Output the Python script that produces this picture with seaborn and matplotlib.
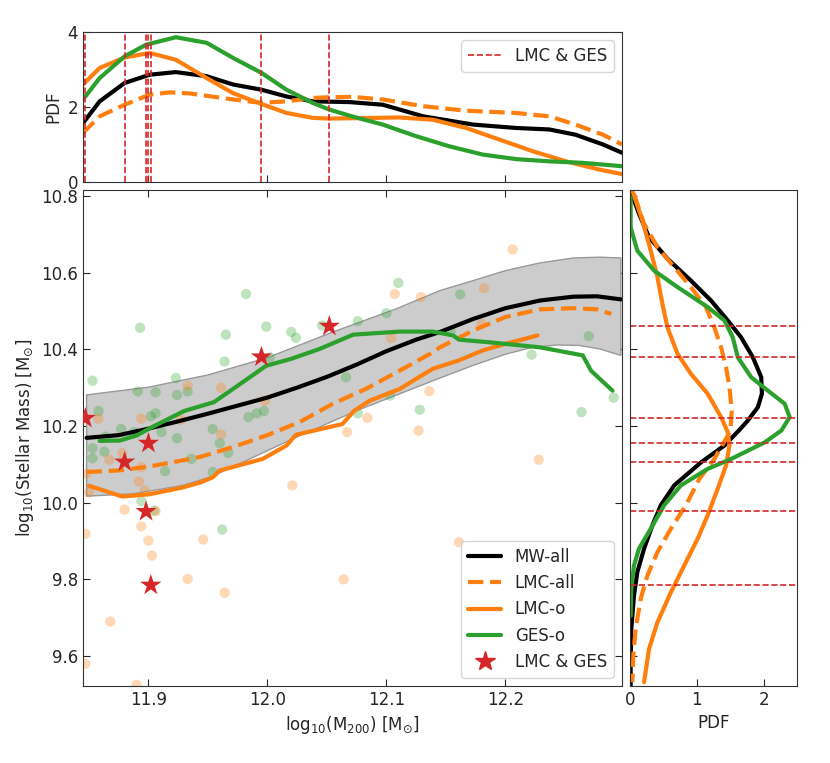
import numpy as np
import seaborn as sns
import matplotlib
matplotlib.use('Agg')
import matplotlib.pyplot as plt
from matplotlib.lines import Line2D

# ---- data ----
# running medians in the main panel
MW_X = [11.848, 11.875, 11.900, 11.925, 11.950, 11.975, 12.000, 12.025, 12.050, 12.075,
        12.100, 12.125, 12.145, 12.173, 12.200, 12.229, 12.257, 12.277, 12.297]
MW_Y = [10.169, 10.176, 10.193, 10.212, 10.232, 10.253, 10.274, 10.300, 10.328, 10.360,
        10.395, 10.425, 10.445, 10.479, 10.507, 10.527, 10.537, 10.538, 10.530]

LMC_ALL_X = [11.848, 11.875, 11.900, 11.925, 11.943, 11.971, 11.999, 12.027, 12.055, 12.083,
             12.111, 12.139, 12.145, 12.173, 12.200, 12.229, 12.257, 12.277, 12.289]
LMC_ALL_Y = [10.080, 10.084, 10.094, 10.108, 10.119, 10.145, 10.175, 10.210, 10.258, 10.297,
             10.344, 10.392, 10.405, 10.449, 10.484, 10.504, 10.507, 10.504, 10.492]

LMC_O_X = [11.850, 11.878, 11.901, 11.928, 11.943, 11.954, 11.960, 11.996, 12.016, 12.024,
           12.063, 12.073, 12.086, 12.111, 12.125, 12.139, 12.161, 12.181, 12.200, 12.227]
LMC_O_Y = [10.044, 10.016, 10.022, 10.039, 10.052, 10.066, 10.084, 10.114, 10.149, 10.177,
           10.205, 10.240, 10.266, 10.296, 10.323, 10.349, 10.371, 10.397, 10.414, 10.436]

GES_O_X = [11.859, 11.876, 11.890, 11.903, 11.930, 11.955, 11.975, 11.999, 12.020, 12.044,
           12.072, 12.111, 12.139, 12.156, 12.161, 12.187, 12.229, 12.265, 12.272, 12.290]
GES_O_Y = [10.161, 10.162, 10.175, 10.197, 10.239, 10.262, 10.305, 10.357, 10.375, 10.401,
           10.438, 10.446, 10.446, 10.436, 10.425, 10.418, 10.405, 10.384, 10.344, 10.292]

# scatter band around MW-all
BAND_UP_X = [11.848, 11.900, 11.950, 12.000, 12.055, 12.108, 12.145, 12.173, 12.200, 12.229,
             12.257, 12.279, 12.297]
BAND_UP_Y = [10.281, 10.301, 10.333, 10.378, 10.445, 10.505, 10.553, 10.579, 10.605, 10.625,
             10.638, 10.640, 10.638]
BAND_LO_X = [11.848, 11.887, 11.929, 11.954, 12.021, 12.075, 12.145, 12.173, 12.201, 12.223,
             12.243, 12.262, 12.279, 12.297]
BAND_LO_Y = [10.017, 10.023, 10.045, 10.069, 10.166, 10.240, 10.325, 10.358, 10.388, 10.405,
             10.411, 10.410, 10.401, 10.384]

# individual hosts
GES_PTS_X = [11.853, 11.893, 11.982, 11.999, 11.965, 11.964, 12.020, 12.024, 11.923, 11.924,
             11.933, 11.891, 11.906, 11.906, 11.902, 11.858, 11.877, 11.888, 11.911, 11.864,
             11.853, 11.853, 11.863, 11.924, 11.954, 11.960, 11.967, 11.936, 11.914, 11.954,
             11.984, 11.991, 11.997, 12.002, 12.046, 11.894, 11.905, 11.962, 12.110, 12.076,
             12.100, 12.162, 12.066, 12.103, 12.076, 12.128, 12.154, 12.270, 12.222, 12.264,
             12.291]
GES_PTS_Y = [10.318, 10.456, 10.544, 10.459, 10.438, 10.368, 10.445, 10.430, 10.325, 10.281,
             10.290, 10.290, 10.288, 10.233, 10.225, 10.239, 10.192, 10.184, 10.184, 10.172,
             10.142, 10.116, 10.133, 10.168, 10.192, 10.155, 10.130, 10.114, 10.082, 10.080,
             10.223, 10.233, 10.239, 10.379, 10.462, 10.004, 9.979, 9.930, 10.573, 10.473,
             10.494, 10.543, 10.327, 10.279, 10.233, 10.242, 10.446, 10.434, 10.386, 10.236,
             10.274]
LMC_PTS_X = [11.858, 11.933, 11.961, 11.894, 11.927, 11.961, 11.998, 11.878, 11.867, 11.894,
             11.848, 11.892, 11.850, 11.897, 11.880, 11.906, 11.894, 11.847, 11.900, 11.946,
             11.903, 11.933, 11.964, 11.868, 11.847, 11.890, 12.021, 12.206, 12.182, 12.107,
             12.129, 12.180, 12.104, 12.136, 12.084, 12.067, 12.127, 12.228, 12.161, 12.064]
LMC_PTS_Y = [10.219, 10.305, 10.299, 10.219, 10.216, 10.178, 10.266, 10.129, 10.112, 10.093,
             10.075, 10.055, 10.027, 10.032, 9.982, 9.978, 9.938, 9.919, 9.901, 9.904,
             9.862, 9.801, 9.765, 9.690, 9.580, 9.525, 10.045, 10.660, 10.559, 10.544,
             10.536, 10.466, 10.429, 10.291, 10.221, 10.184, 10.188, 10.112, 9.897, 9.800]

# hosts with both an LMC and a GES analogue
STAR_X = [11.847, 11.880, 11.900, 11.898, 11.902, 11.995, 12.052]
STAR_Y = [10.220, 10.106, 10.155, 9.977, 9.785, 10.380, 10.460]

# marginal PDFs of halo mass (top)
TOP_MW_X = [11.845, 11.859, 11.880, 11.901, 11.923, 11.949, 11.971, 11.995, 12.016, 12.038,
            12.069, 12.097, 12.131, 12.173, 12.209, 12.237, 12.259, 12.282, 12.298]
TOP_MW = [1.57, 2.15, 2.64, 2.86, 2.93, 2.82, 2.60, 2.46, 2.28, 2.15,
          2.13, 2.06, 1.75, 1.53, 1.44, 1.40, 1.26, 1.00, 0.78]
TOP_LMC_ALL_X = [11.845, 11.859, 11.880, 11.901, 11.918, 11.935, 11.971, 11.995, 12.016, 12.038,
                 12.052, 12.071, 12.097, 12.131, 12.167, 12.209, 12.237, 12.259, 12.282, 12.298]
TOP_LMC_ALL = [1.31, 1.75, 2.06, 2.33, 2.39, 2.36, 2.20, 2.11, 2.15, 2.24,
               2.26, 2.27, 2.20, 2.02, 1.90, 1.84, 1.75, 1.53, 1.26, 1.00]
TOP_LMC_O_X = [11.845, 11.859, 11.880, 11.901, 11.923, 11.949, 11.971, 11.995, 12.016, 12.038,
               12.052, 12.071, 12.111, 12.139, 12.167, 12.195, 12.223, 12.251, 12.279, 12.298]
TOP_LMC_O = [2.60, 3.04, 3.32, 3.44, 3.26, 2.77, 2.37, 2.08, 1.84, 1.71,
             1.69, 1.70, 1.72, 1.66, 1.44, 1.13, 0.82, 0.55, 0.33, 0.21]
TOP_GES_O_X = [11.845, 11.859, 11.880, 11.898, 11.923, 11.949, 11.971, 11.995, 12.016, 12.038,
               12.052, 12.071, 12.097, 12.125, 12.153, 12.181, 12.209, 12.237, 12.265, 12.298]
TOP_GES_O = [2.20, 2.77, 3.35, 3.66, 3.86, 3.71, 3.31, 2.91, 2.46, 2.11,
             1.93, 1.75, 1.53, 1.22, 0.95, 0.73, 0.61, 0.55, 0.51, 0.42]

# marginal PDFs of stellar mass (right)
R_MW_Y = [10.814, 10.753, 10.692, 10.636, 10.579, 10.527, 10.475, 10.431, 10.379, 10.327,
          10.284, 10.249, 10.214, 10.190, 10.149, 10.105, 10.045, 9.993, 9.941, 9.880,
          9.819, 9.758, 9.671, 9.584, 9.522]
R_MW_X = [0.010, 0.135, 0.286, 0.561, 0.912, 1.213, 1.464, 1.664, 1.840, 1.965,
          1.975, 1.915, 1.764, 1.640, 1.414, 1.063, 0.662, 0.461, 0.336, 0.211,
          0.110, 0.060, 0.020, 0.010, 0.010]
R_LMC_ALL_Y = [10.805, 10.727, 10.666, 10.614, 10.562, 10.510, 10.457, 10.405, 10.353, 10.301,
               10.240, 10.188, 10.175, 10.114, 10.062, 9.993, 9.932, 9.871, 9.810, 9.749,
               9.671, 9.601, 9.532]
R_LMC_ALL_X = [0.060, 0.211, 0.411, 0.662, 0.912, 1.138, 1.263, 1.364, 1.439, 1.489,
               1.524, 1.504, 1.464, 1.263, 1.038, 0.837, 0.612, 0.411, 0.261, 0.160,
               0.085, 0.050, 0.035]
R_LMC_O_Y = [10.814, 10.736, 10.657, 10.588, 10.518, 10.457, 10.388, 10.336, 10.284, 10.223,
             10.184, 10.149, 10.097, 10.036, 9.967, 9.906, 9.836, 9.766, 9.688, 9.619, 9.532]
R_LMC_O_X = [0.035, 0.185, 0.311, 0.411, 0.486, 0.561, 0.712, 0.912, 1.163, 1.364,
             1.464, 1.489, 1.439, 1.313, 1.163, 1.013, 0.812, 0.612, 0.411, 0.286, 0.211]
R_GES_O_Y = [10.796, 10.718, 10.657, 10.605, 10.562, 10.510, 10.475, 10.431, 10.379, 10.327,
             10.292, 10.258, 10.223, 10.188, 10.157, 10.114, 10.088, 10.045, 9.993, 9.932,
             9.880, 9.836, 9.775, 9.705]
R_GES_O_X = [0.010, 0.010, 0.110, 0.361, 0.712, 1.163, 1.414, 1.539, 1.614, 1.815,
             2.065, 2.316, 2.391, 2.266, 2.015, 1.514, 1.163, 0.762, 0.511, 0.311,
             0.135, 0.060, 0.020, 0.010]

BLACK = 'black'
ORANGE = '#ff7f0e'
GREEN = '#2ca02c'
RED = '#d62728'

sns.set_style('ticks', {'xtick.direction': 'in', 'ytick.direction': 'in',
                        'axes.edgecolor': '0.2'})
plt.rcParams['font.family'] = ['DejaVu Sans']
plt.rcParams['font.size'] = 12
plt.rcParams['xtick.labelsize'] = 12
plt.rcParams['ytick.labelsize'] = 12

fig = plt.figure(figsize=(8.3, 7.63), dpi=100)
ax = fig.add_axes([0.1, 0.1009, 0.6494, 0.650])
ax_top = fig.add_axes([0.1, 0.7615, 0.6494, 0.1966], sharex=ax)
ax_r = fig.add_axes([0.759, 0.1009, 0.2012, 0.650], sharey=ax)

lw = 3

# ---- main panel ----
ax.fill(np.r_[BAND_UP_X, BAND_LO_X[::-1]], np.r_[BAND_UP_Y, BAND_LO_Y[::-1]],
        facecolor='0.8', edgecolor='0.6', lw=1, zorder=1)
sns.scatterplot(x=GES_PTS_X, y=GES_PTS_Y, ax=ax, color=GREEN, alpha=0.3, s=55,
                edgecolor='none', zorder=2)
sns.scatterplot(x=LMC_PTS_X, y=LMC_PTS_Y, ax=ax, color=ORANGE, alpha=0.3, s=55,
                edgecolor='none', zorder=2)
sns.lineplot(x=MW_X, y=MW_Y, ax=ax, color=BLACK, lw=lw, estimator=None, sort=False, zorder=3)
sns.lineplot(x=LMC_ALL_X, y=LMC_ALL_Y, ax=ax, color=ORANGE, lw=lw, linestyle='--',
             estimator=None, sort=False, zorder=3)
sns.lineplot(x=LMC_O_X, y=LMC_O_Y, ax=ax, color=ORANGE, lw=lw, estimator=None, sort=False, zorder=3)
sns.lineplot(x=GES_O_X, y=GES_O_Y, ax=ax, color=GREEN, lw=lw, estimator=None, sort=False, zorder=3)
ax.scatter(STAR_X, STAR_Y, marker='*', s=260, color=RED, edgecolor='none', zorder=4)

ax.set_xlim(11.845, 12.298)
ax.set_ylim(9.522, 10.815)
ax.set_xticks([11.9, 12.0, 12.1, 12.2])
ax.set_yticks([9.6, 9.8, 10.0, 10.2, 10.4, 10.6, 10.8])
ax.tick_params(top=True, right=True, length=5)
ax.set_xlabel(r'log$_{10}$(M$_{200}$) [M$_{\odot}$]', fontsize=12)
ax.set_ylabel(r'log$_{10}$(Stellar Mass) [M$_{\odot}$]', fontsize=12)

handles = [Line2D([], [], color=BLACK, lw=lw),
           Line2D([], [], color=ORANGE, lw=lw, ls='--'),
           Line2D([], [], color=ORANGE, lw=lw),
           Line2D([], [], color=GREEN, lw=lw),
           Line2D([], [], color=RED, marker='*', ms=15, ls='none')]
ax.legend(handles, ['MW-all', 'LMC-all', 'LMC-o', 'GES-o', 'LMC & GES'],
          loc='lower right', fontsize=12, frameon=True)

# ---- top marginal ----
sns.lineplot(x=TOP_MW_X, y=TOP_MW, ax=ax_top, color=BLACK, lw=lw, estimator=None)
sns.lineplot(x=TOP_LMC_ALL_X, y=TOP_LMC_ALL, ax=ax_top, color=ORANGE, lw=lw, linestyle='--',
             estimator=None)
sns.lineplot(x=TOP_LMC_O_X, y=TOP_LMC_O, ax=ax_top, color=ORANGE, lw=lw, estimator=None)
sns.lineplot(x=TOP_GES_O_X, y=TOP_GES_O, ax=ax_top, color=GREEN, lw=lw, estimator=None)
for sx in STAR_X:
    ax_top.axvline(sx, color=RED, ls='--', lw=1.2)
ax_top.set_ylim(0, 4)
ax_top.set_yticks([0, 2, 4])
ax_top.set_ylabel('PDF', fontsize=12)
ax_top.tick_params(labelbottom=False, length=5)
ax_top.legend(handles=[Line2D([], [], color=RED, ls='--', lw=1.2)], labels=['LMC & GES'],
              loc='upper right', fontsize=12)

# ---- right marginal ----
sns.lineplot(x=R_MW_X, y=R_MW_Y, ax=ax_r, color=BLACK, lw=lw, estimator=None, sort=False)
sns.lineplot(x=R_LMC_ALL_X, y=R_LMC_ALL_Y, ax=ax_r, color=ORANGE, lw=lw, linestyle='--',
             estimator=None, sort=False)
sns.lineplot(x=R_LMC_O_X, y=R_LMC_O_Y, ax=ax_r, color=ORANGE, lw=lw, estimator=None, sort=False)
sns.lineplot(x=R_GES_O_X, y=R_GES_O_Y, ax=ax_r, color=GREEN, lw=lw, estimator=None, sort=False)
for sy in STAR_Y:
    ax_r.axhline(sy, color=RED, ls='--', lw=1.2)
ax_r.set_xlim(0, 2.5)
ax_r.set_xticks([0, 1, 2])
ax_r.set_xlabel('PDF', fontsize=12)
ax_r.tick_params(labelleft=False, length=5)

fig.savefig('out.png', dpi=100)
